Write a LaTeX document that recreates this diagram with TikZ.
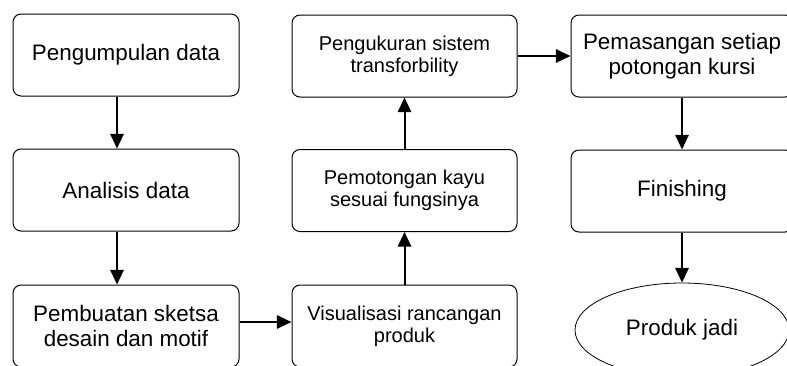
\documentclass[tikz,border=0pt]{standalone}
\usepackage{fontspec}
\setmainfont{Liberation Sans}
\usetikzlibrary{arrows.meta,shapes.geometric}

\tikzset{
  stepbox/.style={draw, line width=0.75pt, rounded corners=6pt, minimum width=169.5pt, minimum height=61.5pt, align=center, inner sep=0pt, font=\fontsize{16.8}{18.5}\selectfont},
  midbox/.style={stepbox, minimum width=168.75pt, font=\fontsize{15}{16.5}\selectfont},
  endoval/.style={draw, ellipse, line width=0.6pt, minimum width=160.5pt, minimum height=70.5pt, inner sep=0pt, font=\fontsize{16.8}{18.5}\selectfont},
  flow/.style={line width=1.5pt, -{Triangle[length=11pt,width=10pt]}}
}

\begin{document}
\begin{tikzpicture}[x=0.75pt,y=0.75pt,yscale=-1]
\useasboundingbox (0,0) rectangle (787,365);
\clip (0,0) rectangle (787,365);

% Left column
\node[stepbox] (kumpul) at (126,55) {Pengumpulan data};
\node[stepbox] (analisis) at (126,190) {Analisis data};
\node[stepbox] (sketsa) at (126,326) {Pembuatan sketsa\\desain dan motif};

% Middle column
\node[midbox] (visual) at (404.5,326) {Visualisasi rancangan\\produk};
\node[midbox] (potong) at (404.5,190.5) {Pemotongan kayu\\sesuai fungsinya};
\node[midbox] (ukur) at (404.5,56) {Pengukuran sistem\\transforbility};

% Right column
\node[stepbox, minimum width=166.5pt] (pasang) at (682,56) {Pemasangan setiap\\potongan kursi};
\node[stepbox, minimum width=166.5pt] (finish) at (682,191) {Finishing};
\node[endoval] (jadi) at (682,330) {Produk jadi};

% Arrows
\draw[flow] ([xshift=-6.75pt]kumpul.south) -- ([xshift=-6.75pt]analisis.north);
\draw[flow] ([xshift=-6.75pt]analisis.south) -- ([xshift=-6.75pt]sketsa.north);
\draw[flow] ([yshift=-3pt]sketsa.east) -- ([yshift=-3pt]visual.west);
\draw[flow] (visual.north) -- (potong.south);
\draw[flow] (potong.north) -- (ukur.south);
\draw[flow] (ukur.east) -- (pasang.west);
\draw[flow] (pasang.south) -- (finish.north);
\draw[flow] (finish.south) -- (jadi.north);
\end{tikzpicture}
\end{document}
